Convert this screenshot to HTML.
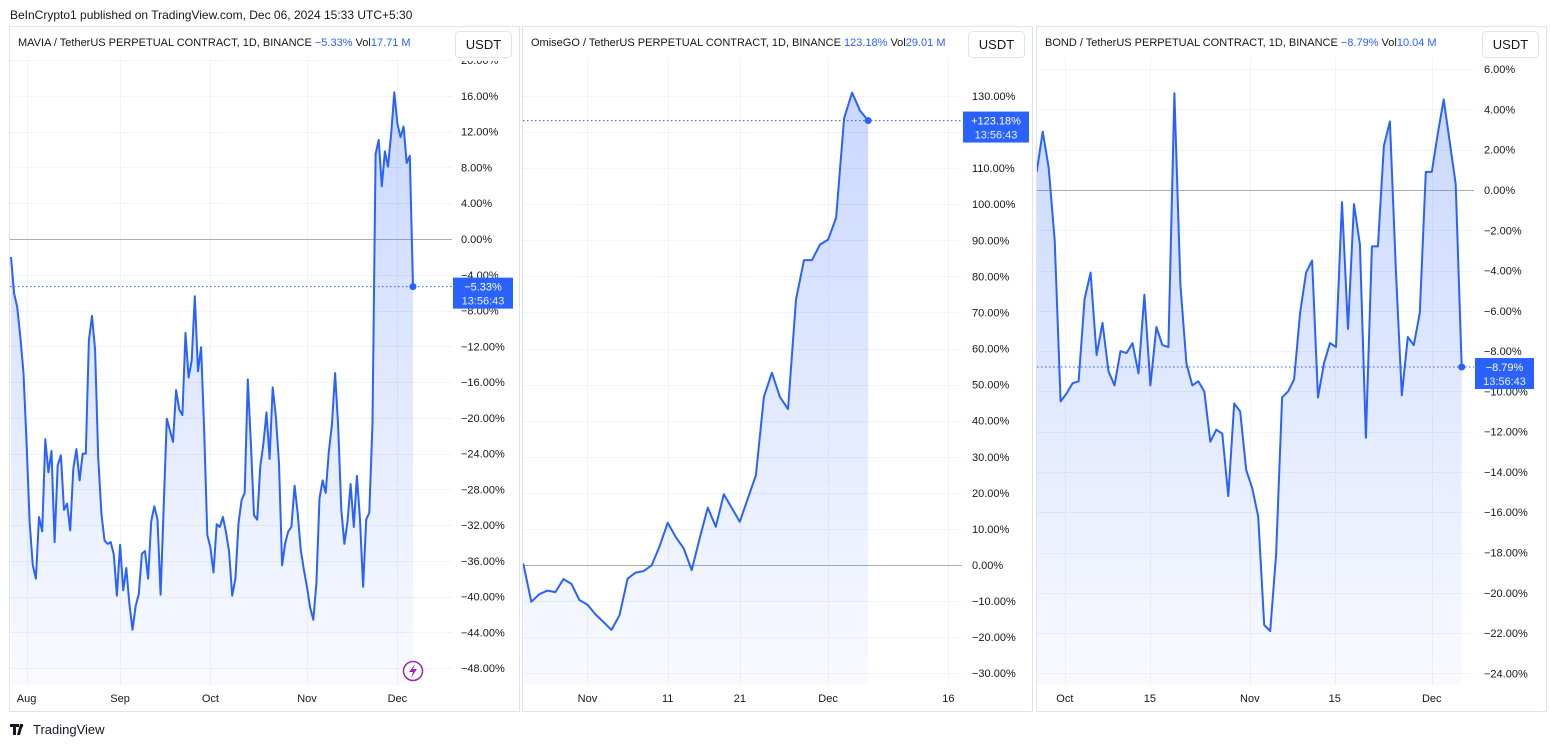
<!DOCTYPE html>
<html><head><meta charset="utf-8"><style>
html,body{margin:0;padding:0;background:#fff;width:1551px;height:747px;overflow:hidden}
svg{position:absolute;left:0;top:0}
text{font-family:"Liberation Sans",sans-serif}
</style></head><body>
<svg id="chart" width="1551" height="747" viewBox="0 0 1551 747">
<defs>
<linearGradient id="fillGrad" x1="0" y1="0" x2="0" y2="1">
<stop offset="0" stop-color="#2962ff" stop-opacity="0.25"/>
<stop offset="1" stop-color="#2962ff" stop-opacity="0.03"/>
</linearGradient>
</defs>
<text x="10" y="19" font-size="12" fill="#131722">BeInCrypto1 published on TradingView.com, Dec 06, 2024 15:33 UTC+5:30</text>
<g>
<path d="M10 724h9v3h-3v8h-3v-8h-3z M20 724h3l-3 11h-3z" fill="#131722"/>
<circle cx="21.5" cy="726" r="1.6" fill="#131722"/>
<text x="33" y="734" font-size="13" fill="#131722">TradingView</text>
</g>
</svg>
<script>
// MAVIA daily % (starting Jul 27)
const maviaValues=[-2.0,-6.1,-7.6,-10.9,-15.0,-22.9,-31.8,-36.5,-38.0,-31.1,-32.7,-22.4,-26.1,-23.7,-33.9,-25.3,-24.2,-30.3,-29.6,-32.6,-25.7,-23.5,-27.0,-24.0,-24.0,-11.3,-8.6,-12.4,-24.4,-30.7,-33.7,-34.1,-33.9,-35.3,-39.9,-34.2,-39.3,-36.8,-40.8,-43.7,-41.1,-39.7,-35.2,-34.9,-38.0,-31.6,-29.9,-31.4,-39.8,-29.9,-20.1,-21.4,-22.7,-16.9,-19.1,-19.7,-10.5,-15.5,-13.6,-6.4,-14.8,-12.1,-21.5,-33.1,-34.5,-37.3,-31.9,-32.2,-31.1,-32.8,-35.0,-39.9,-38.0,-31.8,-29.2,-28.4,-15.7,-22.9,-30.9,-31.4,-25.4,-22.9,-19.4,-24.6,-16.6,-19.9,-25.1,-36.5,-34.0,-32.7,-32.2,-27.6,-30.7,-34.8,-37.0,-38.9,-41.2,-42.6,-38.5,-29.0,-27.0,-28.4,-23.8,-20.8,-15.0,-21.0,-30.3,-34.1,-31.6,-27.4,-32.2,-26.5,-31.4,-38.9,-31.4,-30.6,-20.6,9.5,11.1,5.9,9.8,8.1,11.8,16.4,12.9,11.4,12.6,8.5,9.3,-5.33];
const maviaYTicks=[20,16,12,8,4,0,-4,-8,-12,-16,-20,-24,-28,-32,-36,-40,-44,-48];
const maviaXTicks=[5,35,64,95,124];
const maviaXLabels=["Aug","Sep","Oct","Nov","Dec"];
// OMG daily % (starting Oct 24)
const omgValues=[0.4,-10.2,-8.1,-7.1,-7.5,-3.9,-5.2,-9.7,-11.0,-13.7,-15.8,-18.0,-13.9,-3.8,-2.1,-1.7,-0.1,5.2,11.7,7.8,4.6,-1.4,7.4,15.9,10.6,19.6,15.8,12.0,18.5,24.9,46.6,53.3,46.6,43.2,73.6,84.5,84.5,88.8,90.2,96.2,123.8,130.9,125.9,123.18];
const omgYTicks=[130,120,110,100,90,80,70,60,50,40,30,20,10,0,-10,-20,-30];
const omgXTicks=[8,18,27,38,53];
const omgXLabels=["Nov","11","21","Dec","16"];
// BOND daily % (starting Sep 26)
const bondValues=[0.9,2.9,1.1,-2.5,-10.5,-10.1,-9.6,-9.5,-5.4,-4.1,-8.2,-6.6,-9.0,-9.7,-8.0,-8.1,-7.6,-9.1,-5.2,-9.7,-6.8,-7.7,-7.8,4.8,-4.7,-8.6,-9.7,-9.5,-10.0,-12.5,-11.9,-12.1,-15.2,-10.6,-11.0,-13.9,-14.8,-16.2,-21.6,-21.9,-18.1,-10.3,-10.0,-9.4,-6.1,-4.1,-3.5,-10.3,-8.6,-7.6,-7.8,-0.6,-6.9,-0.7,-2.7,-12.3,-2.8,-2.8,2.2,3.4,-4.0,-10.2,-7.3,-7.7,-6.1,0.9,0.9,2.8,4.5,2.4,0.3,-8.79];
const bondYTicks=[6,4,2,0,-2,-4,-6,-8,-10,-12,-14,-16,-18,-20,-22,-24];
const bondXTicks=[4.7,18.9,35.6,49.8,66];
const bondXLabels=["Oct","15","Nov","15","Dec"];

const NS="http://www.w3.org/2000/svg";
const svg=document.getElementById('chart');
function mk(tag,attrs,parent){const e=document.createElementNS(NS,tag);for(const k in attrs)e.setAttribute(k,attrs[k]);(parent||svg).appendChild(e);return e;}
function fmt(v){return (v<0?'\u2212':'')+Math.abs(v).toFixed(2)+'%';}

function drawPanel(cfg){
  const g=mk('g',{});
  
  
  const frame=mk('rect',{x:cfg.left+0.5,y:26.5,width:cfg.right-cfg.left,height:685,fill:'#fff',stroke:'#e0e3eb'},g);
  
  
  const xs=d=>cfg.x0+d*cfg.step;
  const ys=v=>cfg.yZero-v*cfg.ppu;
  const clipId='clip-'+cfg.name;
  const cp=mk('clipPath',{id:clipId},g);
  mk('rect',{x:cfg.left+1,y:58,width:cfg.plotRight-cfg.left-1,height:685-58},cp);
  const cpl=mk('clipPath',{id:clipId+'-l'},g);
  mk('rect',{x:cfg.plotRight,y:61,width:cfg.right-cfg.plotRight,height:685-61},cpl);
  const grid=mk('g',{'clip-path':'url(#'+clipId+')'},g);
  
  
  cfg.yTicks.forEach(v=>{const y=Math.round(ys(v))+0.5;mk('line',{x1:cfg.left,x2:cfg.plotRight,y1:y,y2:y,stroke:'#f0f3fa'},grid);});
  cfg.xTicks.forEach(d=>{const x=Math.round(xs(d))+0.5;mk('line',{x1:x,x2:x,y1:27,y2:685,stroke:'#f0f3fa'},grid);});
  const zl=mk('line',{x1:cfg.left+1,x2:cfg.plotRight,y1:Math.round(ys(0))+0.5,y2:Math.round(ys(0))+0.5,stroke:'#a9acb6'},g);
  
  
  const vals=cfg.values;
  let pts=vals.map((v,i)=>xs(i).toFixed(1)+','+ys(v).toFixed(1));
  const lastX=xs(vals.length-1),lastY=ys(vals[vals.length-1]);
  const area=mk('path',{d:'M'+xs(0).toFixed(1)+',685 L'+pts.join(' L')+' L'+lastX.toFixed(1)+',685 Z',fill:'url(#fillGrad)','clip-path':'url(#'+clipId+')'},g);
  
  
  const line=mk('polyline',{points:pts.join(' '),fill:'none',stroke:'#2962ff','stroke-width':2,'stroke-linejoin':'round','clip-path':'url(#'+clipId+')'},g);
  
  
  const dl=mk('line',{x1:cfg.left+1,x2:cfg.plotRight,y1:lastY,y2:lastY,stroke:'#2962ff','stroke-width':1,'stroke-dasharray':'1.5 2.5'},g);
  
  
  const dot=mk('circle',{cx:lastX,cy:lastY,r:3.5,fill:'#2962ff'},g);
  
  
  const yl=mk('g',{'clip-path':'url(#'+clipId+'-l)'},g);
  
  
  cfg.yTicks.forEach(v=>{const t=mk('text',{x:cfg.labelX,y:ys(v)+4,'font-size':11,fill:'#131722'},yl);t.textContent=fmt(v);});
  const xl=mk('g',{},g);
  
  
  cfg.xTicks.forEach((d,i)=>{const t=mk('text',{x:xs(d),y:702,'font-size':11,fill:'#131722','text-anchor':'middle'},xl);t.textContent=cfg.xLabels[i];});
  const bw=cfg.badgeW;
  const bx=cfg.plotRight+1;
  const badge=mk('g',{},g);
  
  
  mk('rect',{x:bx,y:lastY-9,width:bw,height:31,fill:'#2962ff'},badge);
  const t1=mk('text',{x:bx+bw/2,y:lastY+4,'font-size':11,fill:'#fff','text-anchor':'middle'},badge);
  t1.textContent=cfg.badgeText;
  const t2=mk('text',{x:bx+bw/2,y:lastY+18,'font-size':11,fill:'#e8eeff','text-anchor':'middle'},badge);
  t2.textContent='13:56:43';
  const lg=mk('text',{x:cfg.left+9,y:46,'font-size':11,fill:'#131722'},g);
  
  
  const s1=mk('tspan',{},lg);s1.textContent=cfg.title+'  ';
  const s2=mk('tspan',{fill:'#2962ff'},lg);s2.textContent=cfg.change+'  ';
  const s3=mk('tspan',{},lg);s3.textContent='Vol';
  const s4=mk('tspan',{fill:'#2962ff'},lg);s4.textContent=cfg.vol;
  const btn=mk('g',{},g);
  
  
  mk('rect',{x:cfg.right-63.5,y:31.5,width:56,height:26,rx:4,fill:'#fff',stroke:'#e0e3eb'},btn);
  const bt=mk('text',{x:cfg.right-35.5,y:49,'font-size':13,fill:'#131722','text-anchor':'middle'},btn);
  bt.textContent='USDT';
}

drawPanel({name:'mavia',left:9,right:519,plotRight:452,x0:11,step:3.116,yZero:239,ppu:8.94,labelX:461,
  values:maviaValues,yTicks:maviaYTicks,xTicks:maviaXTicks,xLabels:maviaXLabels,badgeW:60,badgeText:'\u22125.33%',
  title:'MAVIA / TetherUS PERPETUAL CONTRACT, 1D, BINANCE',change:'\u22125.33%',vol:'17.71 M'});
drawPanel({name:'omg',left:522,right:1032,plotRight:962,x0:523.3,step:8.02,yZero:565,ppu:3.608,labelX:972,
  values:omgValues,yTicks:omgYTicks,xTicks:omgXTicks,xLabels:omgXLabels,badgeW:66,badgeText:'+123.18%',
  title:'OmiseGO / TetherUS PERPETUAL CONTRACT, 1D, BINANCE',change:'123.18%',vol:'29.01 M'});
drawPanel({name:'bond',left:1036,right:1546,plotRight:1474,x0:1036.7,step:5.986,yZero:190,ppu:20.14,labelX:1484,
  values:bondValues,yTicks:bondYTicks,xTicks:bondXTicks,xLabels:bondXLabels,badgeW:59,badgeText:'\u22128.79%',
  title:'BOND / TetherUS PERPETUAL CONTRACT, 1D, BINANCE',change:'\u22128.79%',vol:'10.04 M'});

const lic=mk('g',{});


mk('circle',{cx:413,cy:671,r:9.5,fill:'#fff',stroke:'#9c27b0','stroke-width':1.5},lic);
mk('path',{d:'M415 664 L409 672 L413 672 L411 678 L417 669 L413 669 Z',fill:'#9c27b0'},lic);
</script>
</body></html>
